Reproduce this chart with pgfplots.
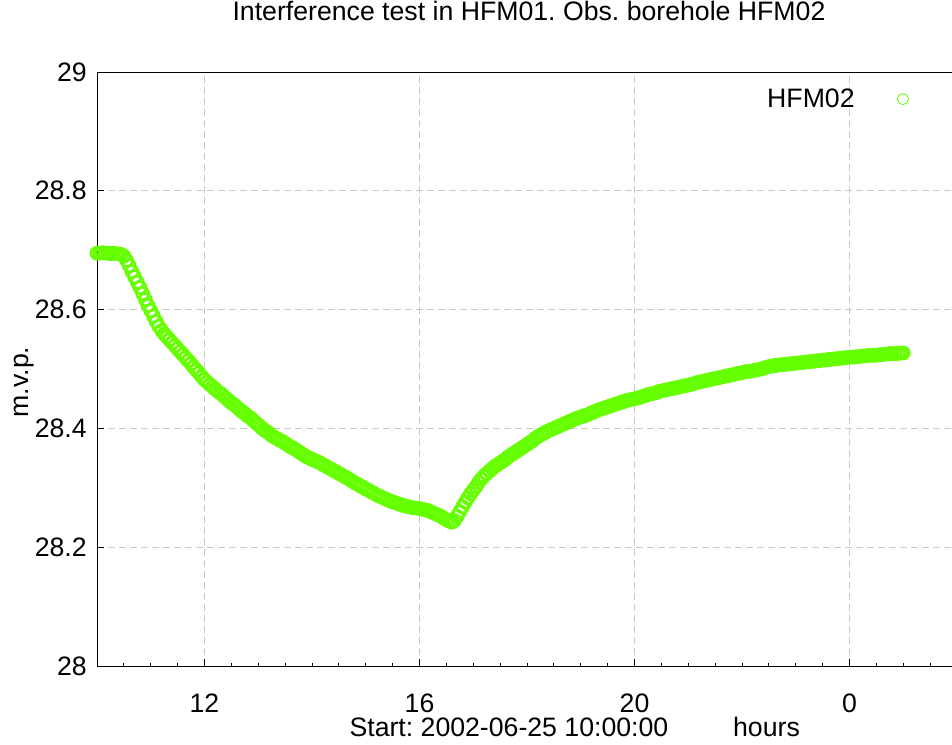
\documentclass[border=0pt]{standalone}
\usepackage{pgfplots}
\pgfplotsset{compat=1.18}
\usepackage{pgfplotstable}
\usepackage{fontspec}
\setmainfont{Liberation Sans}
\frenchspacing
\definecolor{mk}{RGB}{102,255,0}
\definecolor{gridc}{RGB}{200,200,200}
\newcommand{\fs}{\fontsize{20pt}{24pt}\selectfont}

\pgfplotstableread{
t v
10.00 28.695
10.05 28.695
10.10 28.696
10.15 28.695
10.20 28.695
10.25 28.694
10.30 28.695
10.35 28.694
10.40 28.694
10.45 28.693
10.50 28.690
10.55 28.683
10.60 28.674
10.65 28.664
10.70 28.655
10.75 28.646
10.80 28.637
10.85 28.627
10.90 28.617
10.95 28.607
11.00 28.598
11.05 28.589
11.10 28.580
11.15 28.572
11.20 28.565
11.25 28.559
11.30 28.554
11.35 28.549
11.40 28.544
11.45 28.539
11.50 28.534
11.55 28.529
11.60 28.524
11.65 28.519
11.70 28.514
11.75 28.509
11.80 28.503
11.85 28.498
11.90 28.493
11.95 28.487
12.00 28.482
12.05 28.478
12.10 28.474
12.15 28.470
12.20 28.466
12.25 28.462
12.30 28.459
12.35 28.455
12.40 28.451
12.45 28.447
12.50 28.443
12.55 28.440
12.60 28.436
12.65 28.432
12.70 28.428
12.75 28.425
12.80 28.421
12.85 28.418
12.90 28.414
12.95 28.410
13.00 28.406
13.05 28.402
13.10 28.398
13.15 28.395
13.20 28.392
13.25 28.388
13.30 28.385
13.35 28.383
13.40 28.380
13.45 28.378
13.50 28.375
13.55 28.372
13.60 28.369
13.65 28.367
13.70 28.364
13.75 28.361
13.80 28.358
13.85 28.355
13.90 28.352
13.95 28.350
14.00 28.348
14.05 28.346
14.10 28.344
14.15 28.342
14.20 28.339
14.25 28.337
14.30 28.334
14.35 28.332
14.40 28.329
14.45 28.327
14.50 28.324
14.55 28.322
14.60 28.319
14.65 28.317
14.70 28.314
14.75 28.311
14.80 28.308
14.85 28.306
14.90 28.303
14.95 28.301
15.00 28.298
15.05 28.296
15.10 28.293
15.15 28.291
15.20 28.288
15.25 28.286
15.30 28.284
15.35 28.282
15.40 28.280
15.45 28.278
15.50 28.276
15.55 28.275
15.60 28.273
15.65 28.272
15.70 28.270
15.75 28.269
15.80 28.268
15.85 28.267
15.90 28.266
15.95 28.266
16.00 28.265
16.05 28.264
16.10 28.263
16.15 28.262
16.20 28.260
16.25 28.258
16.30 28.256
16.35 28.254
16.40 28.252
16.45 28.249
16.50 28.246
16.55 28.244
16.60 28.242
16.65 28.245
16.70 28.252
16.75 28.260
16.80 28.268
16.85 28.276
16.90 28.283
16.95 28.290
17.00 28.296
17.05 28.302
17.10 28.309
17.15 28.315
17.20 28.320
17.25 28.324
17.30 28.328
17.35 28.332
17.40 28.336
17.45 28.339
17.50 28.342
17.55 28.345
17.60 28.348
17.65 28.352
17.70 28.355
17.75 28.358
17.80 28.361
17.85 28.364
17.90 28.367
17.95 28.370
18.00 28.373
18.05 28.376
18.10 28.379
18.15 28.383
18.20 28.386
18.25 28.389
18.30 28.391
18.35 28.394
18.40 28.396
18.45 28.398
18.50 28.400
18.55 28.402
18.60 28.404
18.65 28.406
18.70 28.408
18.75 28.410
18.80 28.412
18.85 28.414
18.90 28.416
18.95 28.418
19.00 28.419
19.05 28.421
19.10 28.422
19.15 28.424
19.20 28.426
19.25 28.428
19.30 28.430
19.35 28.432
19.40 28.433
19.45 28.435
19.50 28.436
19.55 28.438
19.60 28.439
19.65 28.441
19.70 28.442
19.75 28.444
19.80 28.445
19.85 28.447
19.90 28.448
19.95 28.449
20.00 28.450
20.05 28.451
20.10 28.452
20.15 28.454
20.20 28.455
20.25 28.457
20.30 28.458
20.35 28.459
20.40 28.460
20.45 28.462
20.50 28.463
20.55 28.464
20.60 28.465
20.65 28.466
20.70 28.467
20.75 28.468
20.80 28.469
20.85 28.470
20.90 28.471
20.95 28.472
21.00 28.473
21.05 28.474
21.10 28.475
21.15 28.477
21.20 28.478
21.25 28.479
21.30 28.480
21.35 28.481
21.40 28.482
21.45 28.483
21.50 28.484
21.55 28.485
21.60 28.486
21.65 28.487
21.70 28.488
21.75 28.489
21.80 28.490
21.85 28.491
21.90 28.492
21.95 28.493
22.00 28.494
22.05 28.495
22.10 28.496
22.15 28.496
22.20 28.497
22.25 28.498
22.30 28.499
22.35 28.500
22.40 28.501
22.45 28.503
22.50 28.504
22.55 28.505
22.60 28.506
22.65 28.506
22.70 28.507
22.75 28.507
22.80 28.508
22.85 28.508
22.90 28.509
22.95 28.509
23.00 28.510
23.05 28.510
23.10 28.511
23.15 28.511
23.20 28.512
23.25 28.512
23.30 28.513
23.35 28.513
23.40 28.514
23.45 28.514
23.50 28.515
23.55 28.515
23.60 28.516
23.65 28.516
23.70 28.517
23.75 28.517
23.80 28.518
23.85 28.518
23.90 28.519
23.95 28.519
24.00 28.520
24.05 28.520
24.10 28.520
24.15 28.521
24.20 28.521
24.25 28.522
24.30 28.522
24.35 28.523
24.40 28.523
24.45 28.523
24.50 28.523
24.55 28.524
24.60 28.524
24.65 28.525
24.70 28.525
24.75 28.526
24.80 28.526
24.85 28.526
24.90 28.526
24.95 28.527
25.00 28.527
}\hfm

\begin{document}
\begin{tikzpicture}
\useasboundingbox (-72.75pt,-58.5pt) rectangle (641.25pt,499.5pt);
\begin{axis}[
  at={(0pt,0pt)}, anchor=south west,
  scale only axis, width=645pt, height=445.5pt,
  xmin=10, xmax=26, ymin=28, ymax=29,
  clip=false,
  xtick={12,16,20,24}, xticklabels={12,16,20,0},
  minor xtick={10.5,11,11.5,12.5,13,13.5,14,14.5,15,15.5,16.5,17,17.5,18,18.5,19,19.5,20.5,21,21.5,22,22.5,23,23.5,24.5,25,25.5},
  ytick={28,28.2,28.4,28.6,28.8,29},
  yticklabels={28,28.2,28.4,28.6,28.8,29},
  tick align=inside, xtick pos=left, ytick pos=left,
  major tick length=5.25pt, minor tick length=2.25pt,
  grid=major,
  major grid style={gridc, dash pattern=on 5.25pt off 3pt, line width=0.6pt},
  axis line style={line width=0.7pt, black},
  tick style={black, line width=0.6pt},
  xticklabel style={font=\fs, anchor=base, yshift=-35pt},
  yticklabel style={font=\fs, anchor=east, inner sep=0pt, xshift=-7.5pt},
  title={Interference test in HFM01. Obs. borehole HFM02},
  title style={at={(axis description cs:0.5023,1)}, anchor=center, yshift=39.75pt, font=\fs},
  xlabel={Start: 2002-06-25 10:00:00},
  xlabel style={at={(axis description cs:0.479,-0.1195)}, anchor=base, font=\fs, inner sep=0pt},
  ylabel={m.v.p.},
  ylabel style={at={(axis description cs:-0.085,0.478)}, anchor=center, font=\fs},
  legend plot pos=right,
  legend style={draw=none, fill=none, at={(axis description cs:0.779,0.9545)}, anchor=west, font=\fs, inner sep=0pt, column sep=0pt, nodes={inner sep=0pt}},
  legend image code/.code={\path (0pt,0pt) (37pt,0pt); \draw[#1, only marks, mark size=4.2pt, mark options={line width=0.6pt}] plot coordinates {(36pt,0pt)};},
]
\addplot[only marks, mark=o, mark size=4.6pt, color=mk, mark options={line width=1.8pt}] table[x=t,y=v]{\hfm};
\addlegendentry{HFM02}
\node[font=\fs, anchor=base, inner sep=0pt] at (axis description cs:0.7785,-0.1195) {hours};
\end{axis}
\end{tikzpicture}
\end{document}
